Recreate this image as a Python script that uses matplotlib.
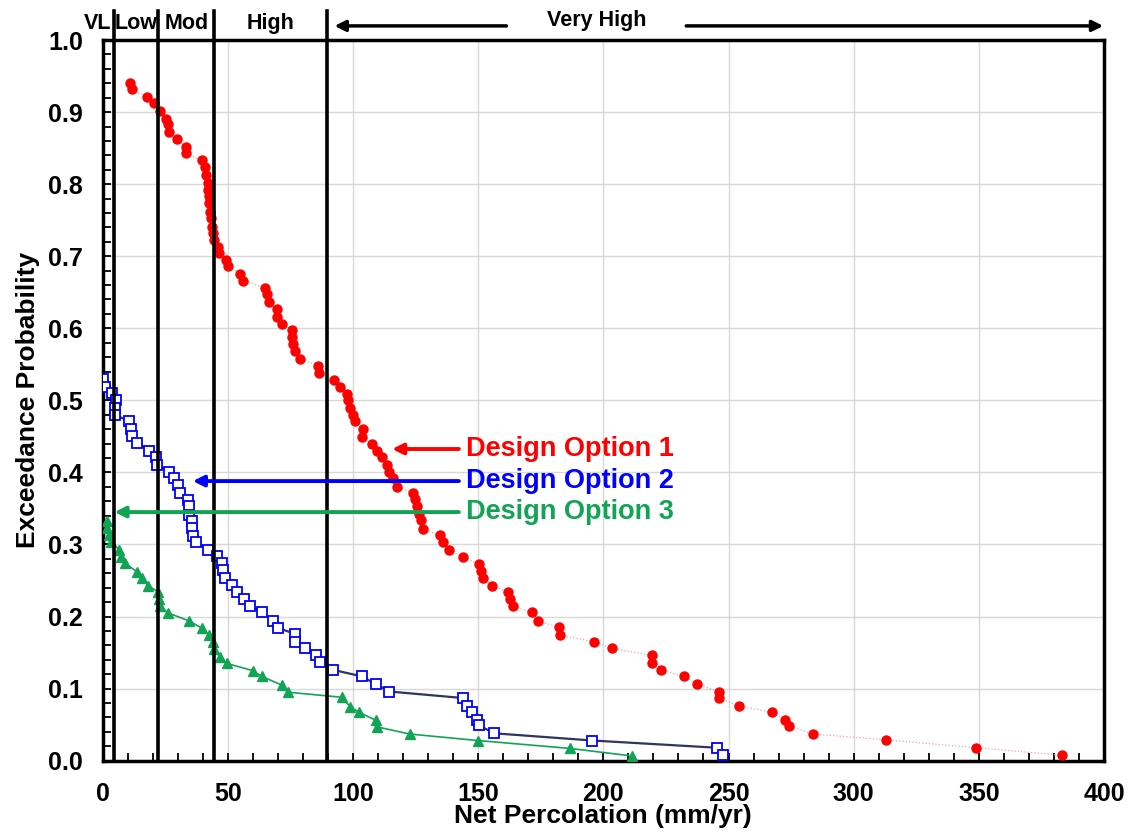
import numpy as np
import matplotlib.pyplot as plt
from matplotlib.ticker import MultipleLocator, FormatStrFormatter

plt.rcParams['font.family'] = 'Liberation Sans'
plt.rcParams['font.weight'] = 'bold'
plt.rcParams['axes.labelweight'] = 'bold'

# Design Option 1
red_x = [10.9, 11.8, 17.8, 20.6, 22.9, 25.3, 26.0, 26.5, 29.6, 33.2,
         33.2, 39.8, 40.9, 41.4, 41.9, 42.2, 42.5, 42.6, 42.9, 43.1,
         43.5, 44.2, 44.5, 46.2, 46.6, 49.3, 50.2, 54.9, 55.9, 64.8,
         65.5, 66.6, 69.8, 69.8, 71.8, 75.5, 75.7, 75.9, 76.8, 78.8,
         85.9, 86.4, 92.4, 94.8, 97.5, 98.1, 98.8, 100.1, 100.8, 103.9,
         103.5, 107.5, 109.5, 111.5, 113.7, 114.5, 116.1, 117.5, 123.9, 124.8,
         125.5, 126.5, 127.0, 127.8, 134.8, 136.1, 138.5, 143.8, 150.3, 151.0,
         152.1, 155.7, 162.0, 162.9, 163.8, 171.5, 173.9, 182.3, 182.5, 196.3,
         203.5, 219.3, 219.3, 222.9, 232.2, 237.6, 246.1, 246.1, 254.2, 267.5,
         272.6, 274.2, 283.7, 312.8, 348.9, 383.1]
red_y = [0.940, 0.932, 0.921, 0.912, 0.902, 0.891, 0.883, 0.872, 0.862, 0.852,
         0.843, 0.833, 0.824, 0.813, 0.802, 0.792, 0.783, 0.774, 0.762, 0.753,
         0.741, 0.732, 0.723, 0.713, 0.705, 0.695, 0.686, 0.676, 0.666, 0.656,
         0.647, 0.636, 0.627, 0.616, 0.606, 0.598, 0.588, 0.578, 0.568, 0.558,
         0.548, 0.538, 0.528, 0.518, 0.509, 0.500, 0.490, 0.480, 0.471, 0.460,
         0.449, 0.440, 0.430, 0.421, 0.410, 0.401, 0.392, 0.380, 0.372, 0.363,
         0.353, 0.343, 0.334, 0.321, 0.313, 0.303, 0.293, 0.282, 0.273, 0.263,
         0.253, 0.243, 0.234, 0.224, 0.214, 0.206, 0.194, 0.185, 0.174, 0.165,
         0.156, 0.146, 0.136, 0.126, 0.117, 0.106, 0.096, 0.087, 0.076, 0.067,
         0.057, 0.048, 0.037, 0.029, 0.018, 0.0075]

# Design Option 2
blue_x = [0.0, 0.9, 3.6, 5.2, 4.9, 4.9, 10.6, 11.2, 11.6, 13.8,
          18.6, 21.3, 21.8, 26.5, 28.6, 30.2, 30.9, 34.0, 34.5, 34.6,
          35.6, 35.8, 36.2, 37.2, 42.2, 45.8, 47.5, 48.1, 48.9, 51.5,
          53.7, 56.5, 58.9, 63.5, 68.2, 70.2, 76.8, 76.8, 80.8, 85.1,
          86.8, 92.1, 103.5, 109.2, 114.5, 143.8, 145.4, 147.4, 149.4, 150.3,
          156.4, 195.6, 245.3, 247.9]
blue_y = [0.529, 0.519, 0.510, 0.500, 0.490, 0.480, 0.471, 0.460, 0.450, 0.441,
          0.430, 0.421, 0.410, 0.401, 0.392, 0.382, 0.371, 0.362, 0.353, 0.341,
          0.333, 0.323, 0.312, 0.303, 0.293, 0.284, 0.274, 0.264, 0.253, 0.244,
          0.234, 0.225, 0.215, 0.206, 0.194, 0.184, 0.176, 0.165, 0.156, 0.146,
          0.137, 0.126, 0.117, 0.106, 0.096, 0.087, 0.076, 0.067, 0.057, 0.049,
          0.038, 0.028, 0.018, 0.008]

# Design Option 3
green_x = [1.8, 1.8, 2.5, 3.3, 6.5, 7.2, 8.9, 13.8, 15.6, 18.1,
           22.2, 22.5, 22.9, 26.1, 34.5, 39.6, 42.6, 44.2, 44.5, 46.9,
           49.5, 59.9, 63.5, 71.5, 74.2, 95.5, 98.8, 102.5, 109.2, 109.5,
           122.6, 149.8, 186.7, 211.6]
green_y = [0.333, 0.323, 0.313, 0.304, 0.293, 0.283, 0.274, 0.262, 0.253, 0.243,
           0.234, 0.224, 0.215, 0.205, 0.194, 0.184, 0.174, 0.165, 0.155, 0.144,
           0.135, 0.125, 0.117, 0.105, 0.095, 0.088, 0.075, 0.067, 0.056, 0.047,
           0.037, 0.028, 0.017, 0.0065]

# percolation classes
class_bounds = [4.6, 22.2, 44.6, 89.5]
class_names = ['VL', 'Low', 'Mod', 'High']

red = '#ff0000'
blue = '#0000ff'
green = '#12a455'

fig = plt.figure(figsize=(11.37, 8.34), dpi=100)
ax = fig.add_axes([0.0903, 0.0879, 0.8807, 0.8641])

ax.plot(red_x, red_y, color='#f2a0a0', lw=0.9, ls=':', marker='o', ms=6.5,
        mfc=red, mec=red, zorder=4)
ax.plot(blue_x, blue_y, color='#2e3560', lw=1.6, marker='s', ms=7,
        mfc='white', mec=blue, mew=1.3, zorder=4)
ax.plot(green_x, green_y, color=green, lw=1.2, marker='^', ms=6.5,
        mfc=green, mec=green, zorder=4)

ax.set_xlim(0, 400)
ax.set_ylim(0, 1)
ax.xaxis.set_major_locator(MultipleLocator(50))
ax.xaxis.set_minor_locator(MultipleLocator(10))
ax.yaxis.set_major_locator(MultipleLocator(0.1))
ax.yaxis.set_minor_locator(MultipleLocator(0.02))
ax.yaxis.set_major_formatter(FormatStrFormatter('%.1f'))
ax.tick_params(which='both', direction='in', length=6, width=1.3)
ax.tick_params(axis='x', labelsize=18, pad=15)
ax.tick_params(axis='y', labelsize=18, pad=14)
ax.grid(which='major', color='#d8d8d8', lw=1.0)
ax.set_axisbelow(True)
for s in ax.spines.values():
    s.set_linewidth(2.5)

ax.set_xlabel('Net Percolation (mm/yr)', fontsize=19, labelpad=-1)
ax.set_ylabel('Exceedance Probability', fontsize=19, labelpad=6)

# class boundary lines running up past the frame
for b in class_bounds:
    ax.axvline(b, ymin=0, ymax=1.04, color='black', lw=2.6, clip_on=False, zorder=5)

lows = [0] + class_bounds[:-1]
for name, lo, hi in zip(class_names, lows, class_bounds):
    if name == 'VL':
        ax.text(hi - 1.2, 1.0225, name, ha='right', va='center', fontsize=15.5)
    else:
        ax.text((lo + hi) / 2, 1.0225, name, ha='center', va='center', fontsize=15.5)

ax.text(197.2, 1.027, 'Very High', ha='center', va='center', fontsize=15.5)
arrow = dict(arrowstyle='-|>', color='black', lw=2.5, mutation_scale=16)
ax.annotate('', xy=(91.5, 1.0196), xytext=(162.4, 1.0196), arrowprops=arrow,
            annotation_clip=False)
ax.annotate('', xy=(400.8, 1.0196), xytext=(232.0, 1.0196), arrowprops=arrow,
            annotation_clip=False)

# option labels with arrows to the curves
labels = ['Design Option 1', 'Design Option 2', 'Design Option 3']
label_y = [0.4325, 0.388, 0.345]
arrow_tip = [114.5, 34.9, 3.6]
for text, yy, tip, c in zip(labels, label_y, arrow_tip, [red, blue, green]):
    ax.text(145.2, yy, text, color=c, ha='left', va='center', fontsize=19.5, zorder=6)
    ax.annotate('', xy=(tip, yy), xytext=(143.4, yy),
                arrowprops=dict(arrowstyle='-|>', color=c, lw=2.8, mutation_scale=16),
                zorder=6)

fig.savefig('out.png', dpi=100)
